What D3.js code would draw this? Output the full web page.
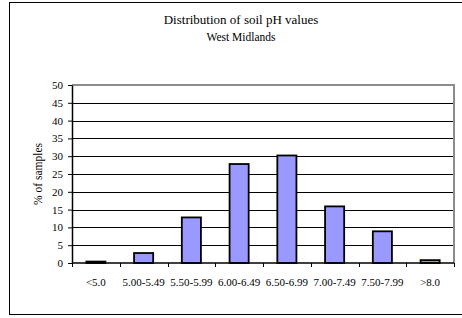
<!DOCTYPE html>
<html>
<head>
<script src="https://d3js.org/d3.v7.min.js"></script>
<style>
  body { margin: 0; background: #fff; }
  text { font-family: "Liberation Serif", "Times New Roman", serif; fill: #000; }
</style>
</head>
<body>
<div id="chart"></div>
<script>
// Data
var categories = ["<5.0", "5.00-5.49", "5.50-5.99", "6.00-6.49", "6.50-6.99", "7.00-7.49", "7.50-7.99", ">8.0"];
var percentSamples = [0.4, 2.8, 12.8, 27.8, 30.2, 15.9, 8.9, 0.8];
var yTicks = [0, 5, 10, 15, 20, 25, 30, 35, 40, 45, 50];

var width = 462, height = 318;
var plot = { left: 72, right: 454, top: 85, bottom: 263 };

var svg = d3.select("#chart").append("svg")
    .attr("width", width)
    .attr("height", height);

// outer chart border (right edge runs off the picture)
svg.append("rect")
    .attr("x", 9.5).attr("y", 2.5)
    .attr("width", 470).attr("height", 312)
    .attr("fill", "none").attr("stroke", "#000").attr("stroke-width", 1);

// titles
svg.append("text").attr("x", 241).attr("y", 24)
    .attr("text-anchor", "middle").attr("font-size", 13)
    .text("Distribution of soil pH values");
svg.append("text").attr("x", 241).attr("y", 41)
    .attr("text-anchor", "middle").attr("font-size", 11.5)
    .text("West Midlands");

var x = d3.scaleBand().domain(categories)
    .range([plot.left, plot.right])
    .paddingInner(0.6).paddingOuter(0.3);
var xEdge = d3.scaleBand().domain(categories).range([plot.left, plot.right]);
var y = d3.scaleLinear().domain([0, 50]).range([plot.bottom, plot.top]);

// gridlines
svg.append("g").selectAll("line")
    .data(yTicks.filter(function(d) { return d > 0 && d < 50; }))
    .enter().append("line")
    .attr("x1", plot.left).attr("x2", plot.right)
    .attr("y1", function(d) { return Math.round(y(d)) + 0.5; })
    .attr("y2", function(d) { return Math.round(y(d)) + 0.5; })
    .attr("stroke", "#000").attr("stroke-width", 1);

// plot area frame: top and right in grey
svg.append("path")
    .attr("d", "M" + plot.left + "," + plot.top + "H" + plot.right + "V" + plot.bottom)
    .attr("fill", "none").attr("stroke", "#8c8c8c").attr("stroke-width", 2);

// bars
svg.append("g").selectAll("rect")
    .data(percentSamples)
    .enter().append("rect")
    .attr("x", function(d, i) { return x(categories[i]); })
    .attr("width", x.bandwidth())
    .attr("y", function(d) { return y(d); })
    .attr("height", function(d) { return y(0) - y(d); })
    .attr("fill", "#9999ff").attr("stroke", "#000").attr("stroke-width", 1.8);

// y axis
var yAxis = svg.append("g")
    .attr("transform", "translate(" + plot.left + ",0)")
    .call(d3.axisLeft(y).tickValues(yTicks).tickSize(4).tickSizeOuter(0));
yAxis.select(".domain").attr("stroke", "#000").attr("stroke-width", 1.5);
yAxis.selectAll(".tick line").attr("stroke", "#000");
yAxis.selectAll(".tick text").attr("font-size", 11)
    .attr("font-family", "Liberation Serif").attr("x", -9);

// x axis: ticks at category boundaries
var xAxisG = svg.append("g").attr("transform", "translate(0," + plot.bottom + ")");
xAxisG.append("line")
    .attr("x1", plot.left).attr("x2", plot.right)
    .attr("stroke", "#000").attr("stroke-width", 1.5);
xAxisG.selectAll(".xtick")
    .data(categories.concat(["end"]))
    .enter().append("line")
    .attr("class", "xtick")
    .attr("x1", function(d, i) { return Math.round(plot.left + i * xEdge.step()) + 0.5; })
    .attr("x2", function(d, i) { return Math.round(plot.left + i * xEdge.step()) + 0.5; })
    .attr("y1", 0).attr("y2", 4)
    .attr("stroke", "#000");
xAxisG.selectAll(".xlabel")
    .data(categories)
    .enter().append("text")
    .attr("class", "xlabel")
    .attr("x", function(d) { return xEdge(d) + xEdge.bandwidth() / 2; })
    .attr("y", 23)
    .attr("text-anchor", "middle").attr("font-size", 11)
    .text(function(d) { return d; });

// y axis title
svg.append("text")
    .attr("transform", "translate(42," + ((plot.top + plot.bottom) / 2) + ") rotate(-90)")
    .attr("text-anchor", "middle").attr("font-size", 11.5)
    .text("% of samples");
</script>
</body>
</html>
